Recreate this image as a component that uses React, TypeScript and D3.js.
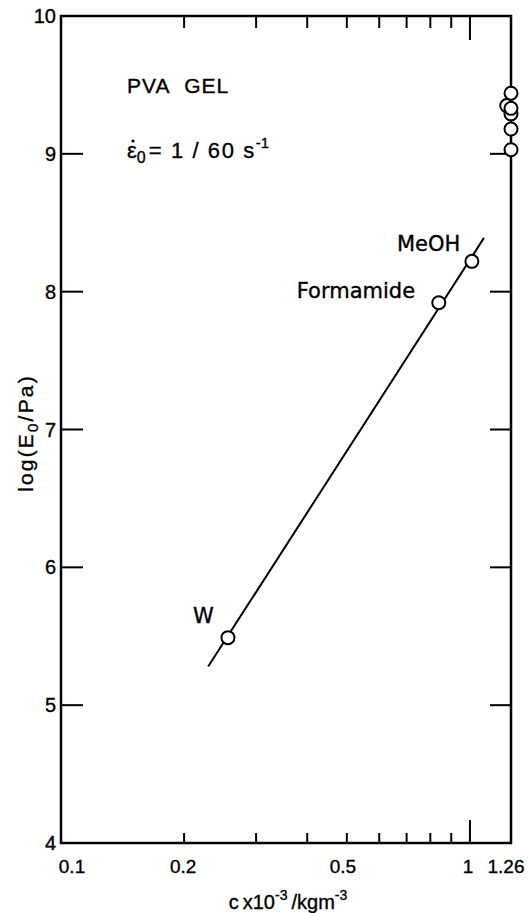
import React from "react";
import * as d3 from "d3";

const xDomain: [number, number] = [0.1, 1.26];
const yDomain: [number, number] = [4, 10];
const xTickLabels = [
  { v: 0.1, t: "0.1", dx: 11 },
  { v: 0.2, t: "0.2", dx: -1 },
  { v: 0.5, t: "0.5", dx: -4 },
  { v: 1, t: "1", dx: -2 },
  { v: 1.26, t: "1.26", dx: -5 },
];
const xMinorTicks = [0.2, 0.3, 0.4, 0.5, 0.6, 0.7, 0.8, 0.9];
const yTicks = [4, 5, 6, 7, 8, 9, 10];
const yInnerTicks = [5, 6, 7, 8, 9];

const solventNames = ["W", "Formamide", "MeOH"];
const solventC = [0.256, 0.839, 1.011];
const solventLogE = [5.49, 7.92, 8.22];

const fitC = [0.229, 1.082];
const fitLogE = [5.28, 8.39];

const edgeC = [1.26, 1.26, 1.26, 1.23, 1.26, 1.26];
const edgeLogE = [9.03, 9.18, 9.29, 9.35, 9.33, 9.44];

const W = 529;
const H = 913;
const L = 61, R = 511, T = 16, B = 843;

export default function App() {
  const x = d3.scaleLog().domain(xDomain).range([L, R]);
  const y = d3.scaleLinear().domain(yDomain).range([B, T]);
  const line = d3
    .line<number>()
    .x((_, i) => x(fitC[i]))
    .y((d) => y(d));
  const font = "'Liberation Sans', Arial, sans-serif";
  const font2 = "'DejaVu Sans', sans-serif";
  const heavy = { stroke: "#000", strokeWidth: 0.35 };
  const labelPos: { dx: number; dy: number }[] = [
    { dx: -35, dy: -15 },
    { dx: -142, dy: -5 },
    { dx: -75, dy: -10 },
  ];
  return (
    <svg
      width={W}
      height={H}
      style={{ position: "absolute", left: 0, top: 0, background: "#fff" }}
    >
      <rect x={0} y={0} width={W} height={H} fill="#fff" />
      <rect
        x={L}
        y={T}
        width={R - L}
        height={B - T}
        fill="none"
        stroke="#000"
        strokeWidth={2.5}
      />
      {xMinorTicks.map((v) => (
        <g key={"xt" + v}>
          <line x1={x(v)} x2={x(v)} y1={B} y2={B - 10} stroke="#000" strokeWidth={2} />
          <line x1={x(v)} x2={x(v)} y1={T} y2={T + 12} stroke="#000" strokeWidth={2} />
        </g>
      ))}
      <line x1={x(1)} x2={x(1)} y1={B} y2={B - 23} stroke="#000" strokeWidth={2} />
      <line x1={x(1)} x2={x(1)} y1={T} y2={T + 24} stroke="#000" strokeWidth={2} />
      {yInnerTicks.map((v) => (
        <g key={"yt" + v}>
          <line x1={L} x2={L + 22} y1={y(v)} y2={y(v)} stroke="#000" strokeWidth={2} />
          <line x1={R} x2={R - 21} y1={y(v)} y2={y(v)} stroke="#000" strokeWidth={2} />
        </g>
      ))}
      {yTicks.map((v) => (
        <text
          key={"yl" + v}
          x={L - 5}
          y={y(v) + 7}
          textAnchor="end"
          fontFamily={font}
          fontSize={20}
          {...heavy}
        >
          {v}
        </text>
      ))}
      {xTickLabels.map((d) => (
        <text
          key={"xl" + d.t}
          x={x(d.v) + d.dx}
          y={873}
          textAnchor="middle"
          fontFamily={font}
          fontSize={19}
          {...heavy}
        >
          {d.t}
        </text>
      ))}
      <text x={288} y={909} textAnchor="middle" fontFamily={font} fontSize={20} {...heavy}>
        c
        <tspan dx={4}>x10</tspan>
        <tspan dy={-9} fontSize={14}>-3</tspan>
        <tspan dy={9} dx={4}>/kgm</tspan>
        <tspan dy={-9} fontSize={14}>-3</tspan>
      </text>
      <text
        transform="translate(33,433) rotate(-90)"
        textAnchor="middle"
        fontFamily={font}
        fontSize={21}
        letterSpacing={2.2}
        {...heavy}
      >
        log(E<tspan dy={5} fontSize={15}>0</tspan>
        <tspan dy={-5}>/Pa)</tspan>
      </text>
      <text x={127} y={93} fontFamily={font} fontSize={21} letterSpacing={1} {...heavy}>
        PVA{"\u00a0\u00a0"}GEL
      </text>
      <text x={127} y={158} fontFamily={font} fontSize={22} {...heavy}>
        ε
        <tspan dy={5} fontSize={16}>0</tspan>
        <tspan dy={-5} dx={3} letterSpacing={1.6}>= 1 / 60 s</tspan>
        <tspan dy={-10} fontSize={15}>-1</tspan>
      </text>
      <circle cx={133} cy={141} r={1.6} fill="#000" />
      <path d={line(fitLogE) || ""} fill="none" stroke="#000" strokeWidth={2} />
      {solventC.map((c, i) => (
        <g key={"p" + i}>
          <circle cx={x(c)} cy={y(solventLogE[i])} r={6.5} fill="#fff" stroke="#000" strokeWidth={2} />
          <text
            x={x(c) + labelPos[i].dx}
            y={y(solventLogE[i]) + labelPos[i].dy}
            fontFamily={font2}
            fontSize={21}
            {...heavy}
          >
            {solventNames[i]}
          </text>
        </g>
      ))}
      {edgeC.map((c, i) => (
        <circle
          key={"e" + i}
          cx={x(c)}
          cy={y(edgeLogE[i])}
          r={6.5}
          fill="#fff"
          stroke="#000"
          strokeWidth={2}
        />
      ))}
    </svg>
  );
}
